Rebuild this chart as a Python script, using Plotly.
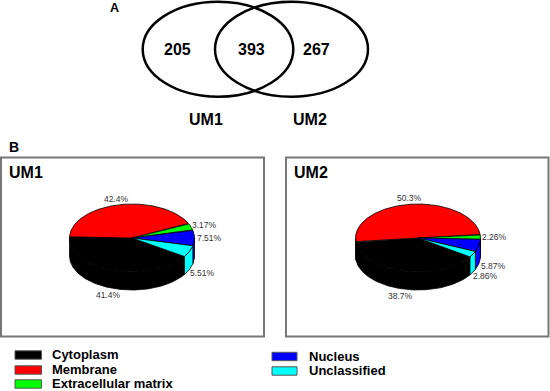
import numpy as np
import plotly.graph_objects as go

# ---------------- data ----------------
categories = ["Cytoplasm", "Membrane", "Extracellular matrix", "Nucleus", "Unclassified"]
colors = ["#000000", "#ff0000", "#00ff00", "#0000ff", "#00ffff"]
samples = ["UM1", "UM2"]
um1_values = [41.4, 42.4, 3.17, 7.51, 5.51]
um2_values = [38.7, 50.3, 2.26, 5.87, 2.86]
venn_sets = ["UM1", "UM2"]
venn_counts = [205, 393, 267]  # UM1 only, shared, UM2 only

# ---------------- layout constants ----------------
W, H = 550, 391
FONT = "Liberation Sans, Arial, sans-serif"
RX, RY, DEPTH = 62.5, 34, 18
LAB_RX, LAB_RY, LAB_D = 77, 40, 19

panels = [
    dict(values=um1_values, name=samples[0], cx=132, cy=238, start=178,
         box=(1, 157.5, 264, 336.5), title_x=26),
    dict(values=um2_values, name=samples[1], cx=418, cy=238, start=187,
         box=(286, 157.5, 548.5, 336.5), title_x=311),
]

fig = go.Figure()
shapes = []
annotations = []


def ell(cx, cy, t):
    r = np.radians(t)
    return cx + RX * np.cos(r), cy - RY * np.sin(r)


def ann(x, y, text, size, bold=False, xanchor="center", color="#000000"):
    annotations.append(dict(
        x=x, y=y, xref="x", yref="y", text=f"<b>{text}</b>" if bold else text,
        showarrow=False, xanchor=xanchor, yanchor="middle",
        font=dict(family=FONT, size=size, color=color)))


# ---------------- Venn (A) ----------------
ann(114, 7.5, "A", 12.5, bold=True)
venn_ellipses = [(142.7, 1.7, 293.3, 96.7), (215, 1.7, 368, 96.7)]
for (x0, y0, x1, y1) in venn_ellipses:
    shapes.append(dict(type="circle", xref="x", yref="y", x0=x0, y0=y0, x1=x1, y1=y1,
                       line=dict(color="#000000", width=2.5)))
count_x = [177, 251.7, 316]
for cxp, c in zip(count_x, venn_counts):
    ann(cxp, 49, str(c), 16, bold=True)
set_x = [205.5, 310]
for sx, s in zip(set_x, venn_sets):
    ann(sx, 119.5, s, 16, bold=True)

# ---------------- Pies (B) ----------------
ann(14.2, 146.7, "B", 14, bold=True)

for p in panels:
    x0, y0, x1, y1 = p["box"]
    shapes.append(dict(type="rect", xref="x", yref="y", x0=x0, y0=y0, x1=x1, y1=y1,
                       line=dict(color="#777777", width=2), fillcolor="rgba(0,0,0,0)",
                       layer="below"))
    ann(p["title_x"], 172.5, p["name"], 16, bold=True)

    vals = np.array(p["values"], dtype=float)
    spans = vals / vals.sum() * 360.0
    cx, cy = p["cx"], p["cy"]
    a = p["start"] + spans[0]
    slices = []
    for i, sp in enumerate(spans):
        s, e = a, a - sp
        slices.append((i, s, e))
        a = e

    # side walls (front half only)
    for i, s, e in slices:
        for k in (-1, 0, 1):
            lo = max(e, 180 + 360 * k)
            hi = min(s, 360 + 360 * k)
            if hi > lo:
                tw = np.linspace(hi, lo, max(int(hi - lo) + 2, 3))
                xw, yw = ell(cx, cy, tw)
                fig.add_trace(go.Scatter(
                    x=np.concatenate([xw, xw[::-1], xw[:1]]),
                    y=np.concatenate([yw, yw[::-1] + DEPTH, yw[:1]]),
                    mode="lines", fill="toself", fillcolor=colors[i],
                    line=dict(color="#000000", width=0.8),
                    hoverinfo="skip", showlegend=False))
    # top faces
    for i, s, e in slices:
        t = np.linspace(s, e, max(int(s - e) + 2, 3))
        xt, yt = ell(cx, cy, t)
        fig.add_trace(go.Scatter(
            x=np.concatenate([[cx], xt, [cx]]),
            y=np.concatenate([[cy], yt, [cy]]),
            mode="lines", fill="toself", fillcolor=colors[i],
            line=dict(color="#000000", width=0.8),
            name=categories[i], hoverinfo="name", showlegend=False))
    # percent labels
    for i, s, e in slices:
        mid = np.radians((s + e) / 2)
        lx = cx + LAB_RX * np.cos(mid)
        ly = cy - LAB_RY * np.sin(mid) + (LAB_D if np.sin(mid) < 0 else 0)
        ann(lx, ly, f"{p['values'][i]:g}%", 8.5, color="#333333")

# ---------------- Legend ----------------
legend_cols = [(15, 41.5, 50, [355, 370, 384]), (272, 297, 307, [356.5, 371])]
idx = 0
for sx0, sx1, tx, rows in legend_cols:
    for ry in rows:
        shapes.append(dict(type="rect", xref="x", yref="y", x0=sx0, x1=sx1,
                           y0=ry - 4.2, y1=ry + 4.2, fillcolor=colors[idx],
                           line=dict(color="#555555", width=1)))
        ann(tx, ry - 0.5, categories[idx], 13, bold=True, xanchor="left")
        idx += 1

fig.update_layout(
    width=W, height=H, autosize=False,
    margin=dict(l=0, r=0, t=0, b=0),
    paper_bgcolor="#ffffff", plot_bgcolor="#ffffff",
    xaxis=dict(range=[0, W], visible=False, fixedrange=True),
    yaxis=dict(range=[H, 0], visible=False, fixedrange=True),
    shapes=shapes, annotations=annotations, showlegend=False,
)

fig.write_html("out.html", config={"displayModeBar": False},
               post_script="document.body.style.margin='0';document.body.style.overflow='hidden';")
